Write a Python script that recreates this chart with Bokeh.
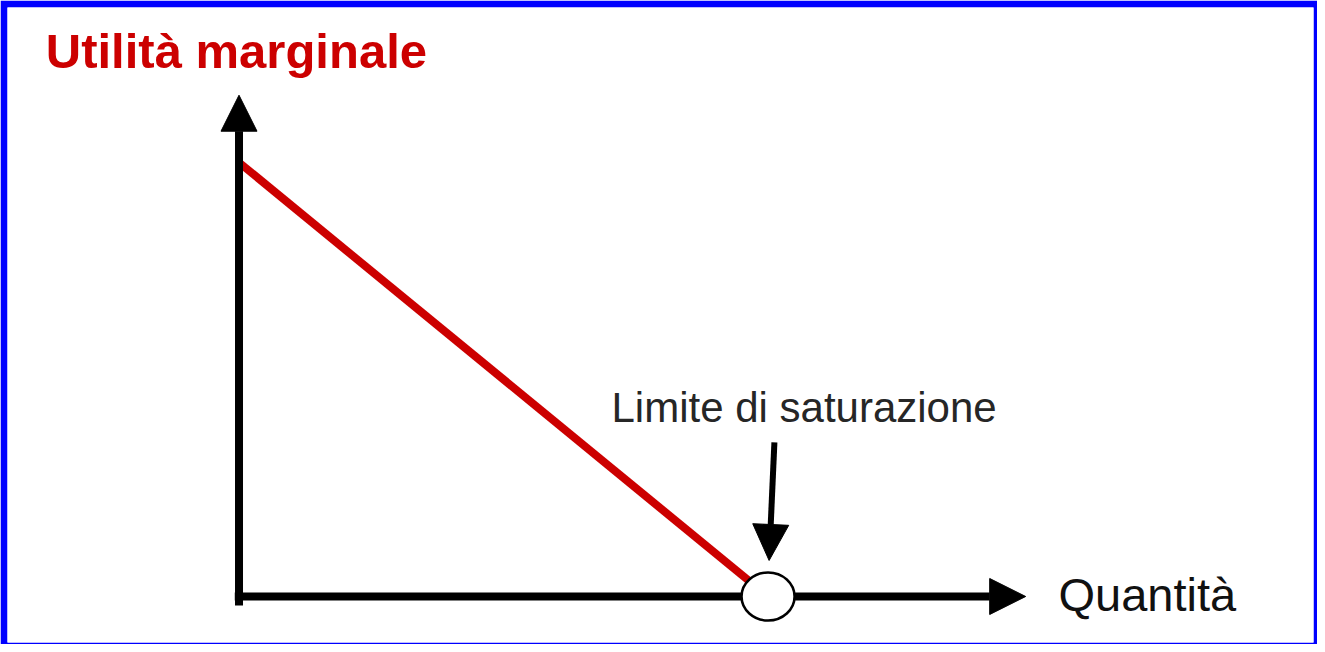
from bokeh.plotting import figure
from bokeh.models import Range1d, Arrow, NormalHead
from bokeh.core.properties import value
from bokeh.embed import file_html
from bokeh.resources import INLINE

# ---- data ----
quantity = [0, 10]            # quantity consumed
marginal_utility = [10, 0]    # marginal utility
saturation_q = [10]           # saturation point (quantity)
saturation_u = [0]
title_label = "Utilità marginale"
x_label = "Quantità"
annotation_label = "Limite di saturazione"

FONT = "Liberation Sans"

p = figure(width=1317, height=644, output_backend="svg", toolbar_location=None,
           x_range=Range1d(-4.376, 20.31), y_range=Range1d(-1.06, 13.571),
           min_border_left=7, min_border_top=7, min_border_right=4, min_border_bottom=2)
p.border_fill_color = "#0000ff"
p.background_fill_color = "white"
p.outline_line_color = None
p.axis.visible = False
p.grid.visible = False

# axes drawn as arrows
p.add_layout(Arrow(end=NormalHead(size=36, fill_color="black", line_color="black"),
                   x_start=0, y_start=-0.207, x_end=0, y_end=11.55,
                   line_width=8, line_color="black"))
p.add_layout(Arrow(end=NormalHead(size=36, fill_color="black", line_color="black"),
                   x_start=-0.08, y_start=0, x_end=14.87, y_end=0,
                   line_width=8, line_color="black"))

# marginal utility line
p.line(quantity, marginal_utility, line_color="#cc0000", line_width=8)

# saturation point (drawn on top of the axis)
sat = p.ellipse(x=saturation_q, y=saturation_u, width=53, height=48,
                width_units="screen", height_units="screen",
                fill_color="white", line_color="black", line_width=2.5)
sat.level = "overlay"

# annotation arrow
p.add_layout(Arrow(end=NormalHead(size=36, fill_color="black", line_color="black"),
                   x_start=10.12, y_start=3.55, x_end=10.02, y_end=0.83,
                   line_width=6, line_color="black"))

# texts
p.text(x=[-3.652], y=[12.564], text=[title_label], text_font=value(FONT),
       text_font_style="bold", text_font_size="49px", text_color="#cc0000",
       text_baseline="alphabetic", text_align="left")
p.text(x=[7.04], y=[4.36], text=[annotation_label], text_font=value(FONT),
       text_font_size="42px", text_color="#262626",
       text_baseline="alphabetic", text_align="left")
p.text(x=[15.49], y=[0.04], text=[x_label], text_font=value(FONT),
       text_font_size="47px", text_color="#111111",
       text_baseline="alphabetic", text_align="left")

open("out.html", "w").write(file_html(p, INLINE))
